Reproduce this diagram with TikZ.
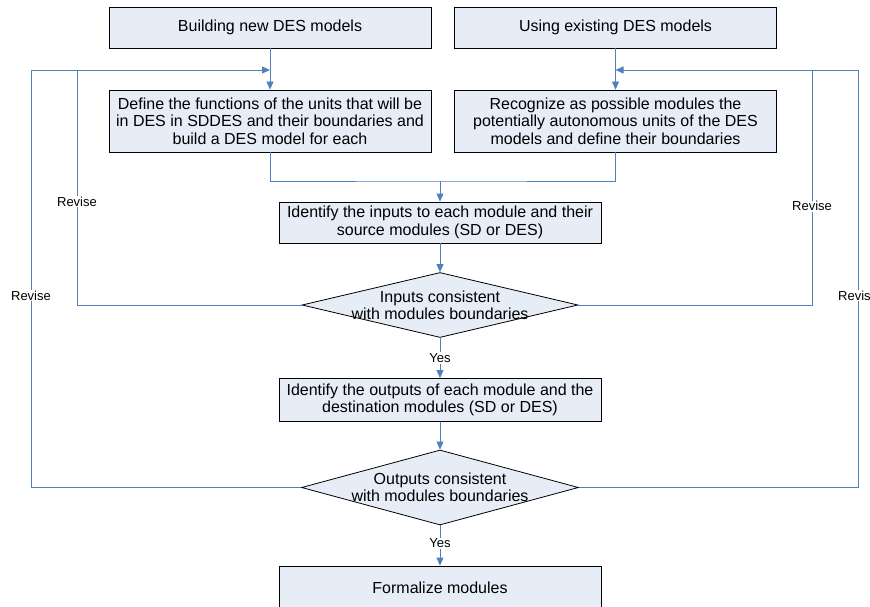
\documentclass[tikz,border=0pt]{standalone}
\usepackage{fontspec}
\setmainfont{Liberation Sans}
\usetikzlibrary{shapes.geometric}
\usetikzlibrary{arrows.meta}
\definecolor{lnblue}{RGB}{79,129,189}
\definecolor{boxfill}{RGB}{231,237,247}
\tikzset{%
    box/.style={draw=black,fill=boxfill,line width=0.8pt,minimum width=322pt,inner sep=0pt,align=center,font=\fontsize{16}{17.4}\selectfont},
    dec/.style={diamond,draw=black,fill=boxfill,line width=0.8pt,inner sep=0pt},
    dtxt/.style={align=center,font=\fontsize{16}{17.4}\selectfont},
    lne/.style={draw=lnblue,line width=0.8pt},
    arr/.style={lne,-{Triangle[length=8pt,width=7pt]}},
    lbl/.style={fill=white,inner sep=1pt,font=\fontsize{13}{14}\selectfont}
}
\begin{document}
\begin{tikzpicture}[x=1pt,y=-1pt]
        \useasboundingbox (0,0) rectangle (870,607);
        \node[box,minimum height=41pt] (b1) at (270,27.5){Building new DES models};
        \node[box,minimum height=41pt] (b2) at (615.5,27.5){Using existing DES models};
        \node[box,minimum height=62pt] (b3) at (270,121){Define the functions of the units that will be\\in DES in SDDES and their boundaries and\\build a DES model for each};
        \node[box,minimum height=62pt] (b4) at (615.5,121){Recognize as possible modules the\\potentially autonomous units of the DES\\models and define their boundaries};
        \node[box,minimum height=41pt] (b5) at (440,222.5){Identify the inputs to each module and their\\source modules (SD or DES)};
        \node[dec,minimum width=276pt,minimum height=65pt,label={[dtxt]center:Inputs consistent\\with modules boundaries}] (d1) at (440,305){};
        \node[box,minimum height=43pt] (b6) at (440,400){Identify the outputs of each module and the\\destination modules (SD or DES)};
        \node[dec,minimum width=277pt,minimum height=75pt,label={[dtxt]center:Outputs consistent\\with modules boundaries}] (d2) at (440,487.5){};
        \node[box,minimum height=44pt] (b7) at (440,588){Formalize modules};
        \coordinate (jn) at (440,181);
        \coordinate (inL) at (270,70);
        \coordinate (inR) at (615.5,70);
        \coordinate (tl1) at (77,70);
        \coordinate (tl2) at (31,70);
        \coordinate (tr1) at (812,70);
        \coordinate (tr2) at (858,70);
        \draw[arr] (b1) -- (b3);
        \draw[arr] (b2) -- (b4);
        \draw[lne] (b3.south) |- (jn) -| (b4.south);
        \draw[arr] (jn) -- (b5);
        \draw[arr] (b5) -- (d1);
        \draw[arr] (d1) -- node[lbl]{Yes} (b6);
        \draw[arr] (b6) -- (d2);
        \draw[arr] (d2) -- node[lbl,pos=0.45]{Yes} (b7);
        % revise loops
        \draw[lne] (d1.west) -| node[lbl,pos=0.72]{Revise} (tl1);
        \draw[arr] (d2.west) -| node[lbl,pos=0.73]{Revise} (tl2) -- (inL);
        \draw[lne] (d1.east) -| node[lbl,pos=0.71]{Revise} (tr1);
        \draw[arr] (d2.east) -| node[lbl,pos=0.73]{Revise} (tr2) -- (inR);
    \end{tikzpicture}
\end{document}
